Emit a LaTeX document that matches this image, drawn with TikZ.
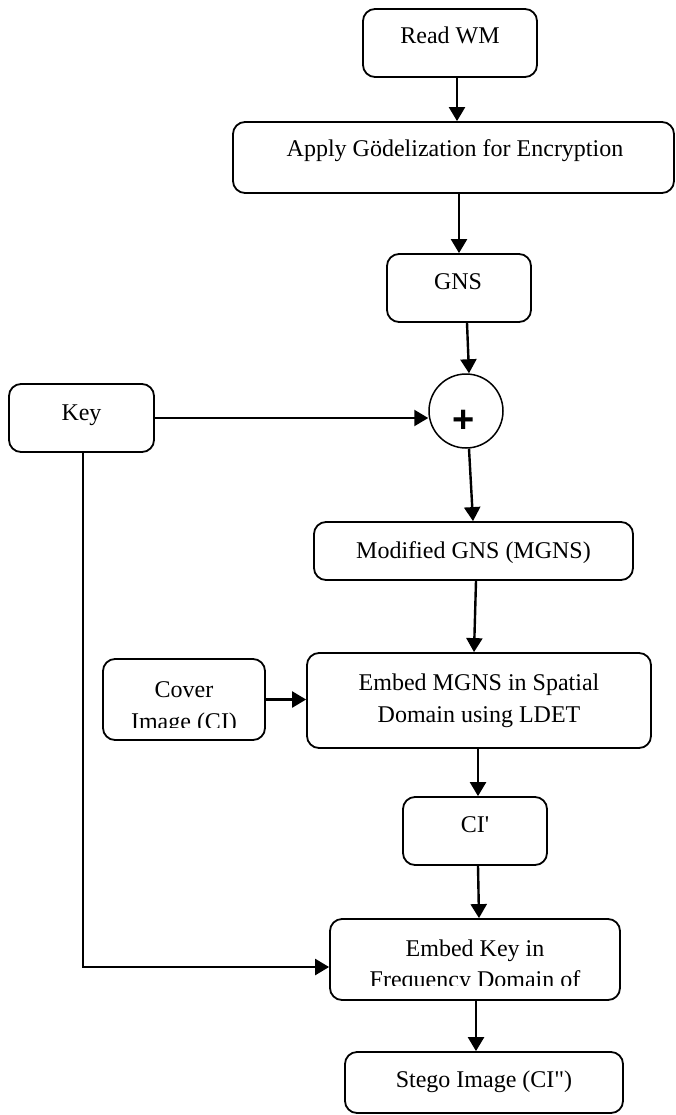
\documentclass[tikz,border=0pt]{standalone}
\usepackage{fontspec}
\setmainfont{Liberation Serif}[Ligatures=TeXOff]
\newfontfamily\plusfont{Liberation Sans}
\usetikzlibrary{arrows.meta}
\begin{document}
\begin{tikzpicture}[x=1pt,y=-1pt,
  box/.style={draw, line width=1.8pt, rounded corners=12pt, inner sep=0pt},
  lbl/.style={anchor=base, inner sep=0pt, font=\fontsize{24}{29}\selectfont},
  arr/.style={line width=2.4pt, -{Triangle[length=14pt,width=16pt]}},
  ln/.style={line width=2.4pt}]
\useasboundingbox (0,0) rectangle (675,1115);
% boxes
\node[box, minimum width=174pt, minimum height=68pt] (readwm) at (450,43) {};
\node[box, minimum width=441pt, minimum height=71pt] (apply) at (453.5,157.5) {};
\node[box, minimum width=144pt, minimum height=68pt] (gns) at (459,288) {};
\node[box, minimum width=145pt, minimum height=68pt] (key) at (81.5,418) {};
\node[draw, circle, line width=1.5pt, minimum size=74pt, inner sep=0pt] (circ) at (466,411) {};
\node[box, minimum width=319pt, minimum height=58pt] (mgns) at (473.5,551) {};
\node[box, minimum width=344pt, minimum height=95pt] (emgns) at (479,700.5) {};
\node[box, minimum width=162pt, minimum height=81pt] (cover) at (184,699.5) {};
\node[box, minimum width=144pt, minimum height=68pt] (ci) at (475,831) {};
\node[box, minimum width=290pt, minimum height=81pt] (ekey) at (475,959.5) {};
\node[box, minimum width=278pt, minimum height=61pt] (stego) at (484,1082.5) {};
% texts
\node[lbl] (treadwm) at (450,44) {Read WM};
\node[lbl] (tapply) at (455,157) {Apply Gödelization for Encryption};
\node[lbl] (tgns) at (458,289) {GNS};
\node[lbl] (tkey) at (81.5,420) {Key};
\node[inner sep=0pt, font=\plusfont\bfseries\fontsize{38}{38}\selectfont] (tplus) at (464,421) {+};
\node[lbl] (tmgns) at (473.5,558) {Modified GNS (MGNS)};
\node[lbl] (temgnsa) at (479,690) {Embed MGNS in Spatial};
\node[lbl] (temgnsb) at (479,722) {Domain using LDET};
\node[lbl] (tcovera) at (184,697) {Cover};
\begin{scope}
  \clip (103,659) rectangle (265,727.5);
  \node[lbl] (tcoverb) at (184,729.5) {Image (CI)};
\end{scope}
\node[lbl] (tci) at (475,832) {CI'};
\node[lbl] (tekeya) at (475,956) {Embed Key in};
\begin{scope}
  \clip (330,919) rectangle (620,985.5);
  \node[lbl] (tekeyb) at (475,987) {Frequency Domain of};
\end{scope}
\node[lbl] (tstego) at (484,1087) {Stego Image (CI")};
% connectors
\draw[arr] ([xshift=7pt]readwm.south) -- ([xshift=3.5pt]apply.north);
\draw[arr] ([xshift=5.5pt]apply.south) -- (gns.north);
\draw[arr] ([xshift=8pt]gns.south) -- ([xshift=3pt]circ.north);
\draw[arr] ([xshift=3pt]circ.south) -- ([xshift=-0.5pt]mgns.north);
\draw[arr] ([xshift=2.5pt]mgns.south) -- ([xshift=-5pt]emgns.north);
\draw[arr] (cover.east) -- (cover.east -| emgns.west);
\draw[arr] ([xshift=-1pt]emgns.south) -- ([xshift=3pt]ci.north);
\draw[arr] ([xshift=3pt]ci.south) -- ([xshift=4pt]ekey.north);
\draw[arr] ([xshift=1pt]ekey.south) -- ([xshift=-8pt]stego.north);
\draw[arr] (key.east) -- (circ.west |- key.east);
\draw[arr] ([xshift=1.5pt]key.south) |- ([yshift=-7.5pt]ekey.west);
\end{tikzpicture}
\end{document}
